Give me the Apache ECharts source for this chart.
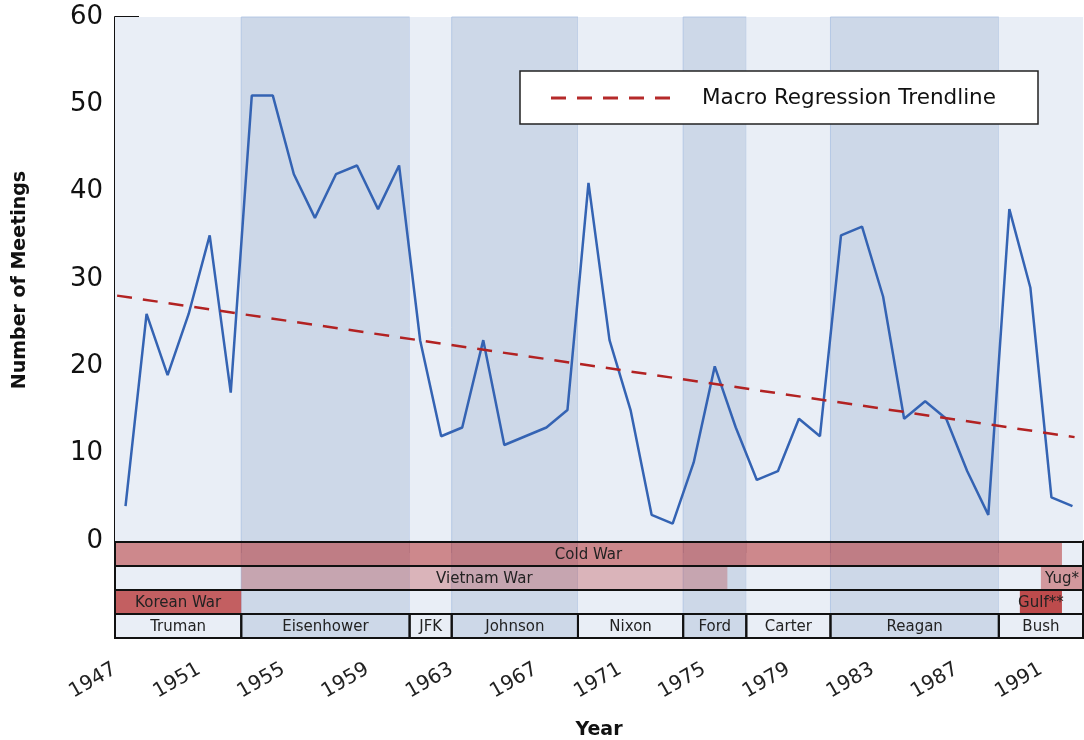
<!DOCTYPE html>
<html>
<head>
<meta charset="utf-8">
<script src="https://cdn.jsdelivr.net/npm/echarts@6/dist/echarts.min.js"></script>
<style>
html,body{margin:0;padding:0;background:#fff;}
#chart{width:1084px;height:740px;}
</style>
</head>
<body>
<div id="chart"></div>
<script>
// ---------- DATA ----------
const years = [1947,1948,1949,1950,1951,1952,1953,1954,1955,1956,1957,1958,1959,1960,1961,1962,1963,1964,1965,1966,1967,1968,1969,1970,1971,1972,1973,1974,1975,1976,1977,1978,1979,1980,1981,1982,1983,1984,1985,1986,1987,1988,1989,1990,1991,1992];
const meetings = [4,26,19,26,35,17,51,51,42,37,42,43,38,43,23,12,13,23,11,12,13,15,41,23,15,3,2,9,20,13,7,8,14,12,35,36,28,14,16,14,8,3,38,29,5,4];
const trendX = [1947.1, 1992.6];
const trendY = [28.1, 11.9];

const presidentNames = ['Truman','Eisenhower','JFK','Johnson','Nixon','Ford','Carter','Reagan','Bush'];
const presidentStart = [1947,1953,1961,1963,1969,1974,1977,1981,1989];
const presidentEnd   = [1953,1961,1963,1969,1974,1977,1981,1989,1993];

const eventNames = ['Cold War','Vietnam War','Yug*','Korean War','Gulf**'];
const eventStart = [1947,1953,1991,1947,1990];
const eventEnd   = [1992,1976.1,1993,1953,1992];
const eventRow   = [0,1,1,2,2];

const xTickLabels = [1947,1951,1955,1959,1963,1967,1971,1975,1979,1983,1987,1991];
const yTickLabels = [0,10,20,30,40,50,60];
const legendName = 'Macro Regression Trendline';

// ---------- LAYOUT / STYLE ----------
const X_MIN = 1947, X_MAX = 1993, Y_MIN = -11.1, Y_MAX = 60;
const ROW_BOUNDS = [[-0.1,-2.85],[-2.85,-5.6],[-5.6,-8.35],[-8.35,-11.1]];
const EVENT_ALPHA = [0.5,0.28,0.42,0.7,0.8];
const LIGHT = '#e9eef6', DARK = '#cdd8e8';
const FONT = 'DejaVu Sans';
// legend sample: five dashes (15 on, 11 off)
const DASH_ICON = 'path://M0,0h15v3h-15z M26,0h15v3h-15z M52,0h15v3h-15z M78,0h15v3h-15z M104,0h15v3h-15z';

const chart = echarts.init(document.getElementById('chart'), null, {renderer:'canvas'});

const lineData = years.map((y,i)=>[y+0.5, meetings[i]]);
const trendData = trendX.map((x,i)=>[x, trendY[i]]);
const presData = presidentNames.map((n,i)=>[presidentStart[i], presidentEnd[i], i]);
const eventData = eventNames.map((n,i)=>[eventStart[i], eventEnd[i], eventRow[i], i]);
const rowData = ROW_BOUNDS.map((r,i)=>[X_MIN, X_MAX, i]);
const allYears = [];
for (let y = X_MIN; y <= X_MAX; y++) allYears.push(y);

function rectFrom(api, x1, y1, x2, y2){
  const a = api.coord([x1,y1]), b = api.coord([x2,y2]);
  return {x:a[0], y:a[1], width:b[0]-a[0], height:b[1]-a[1]};
}

const option = {
  animation:false,
  backgroundColor:'#fff',
  textStyle:{fontFamily:FONT},
  grid:{left:115,right:1,top:17,bottom:102,containLabel:false,outerBoundsMode:'none'},
  legend:{
    data:[{name:legendName, icon:DASH_ICON}],
    left:551, top:86, padding:0, z:60,
    itemWidth:119, itemHeight:3,
    itemStyle:{color:'#b52a2a',borderWidth:0},
    textStyle:{fontFamily:FONT,fontSize:21.5,color:'#111',lineHeight:24,padding:[0,0,0,27]}
  },
  graphic:[
    {type:'rect', z:50, shape:{x:520,y:71,width:518,height:53}, style:{fill:'#fff',stroke:'#222',lineWidth:1.5}},
    {type:'text', z:50, x:20, y:280, rotation:Math.PI/2,
      style:{text:'Number of Meetings', fontFamily:FONT, fontSize:19, fontWeight:'bold', fill:'#111', align:'center', verticalAlign:'middle'}}
  ],
  xAxis:{
    type:'value', min:X_MIN, max:X_MAX, interval:1,
    name:'Year', nameLocation:'middle', nameGap:83,
    nameTextStyle:{fontFamily:FONT,fontSize:19,fontWeight:'bold',color:'#111'},
    axisLine:{show:true,lineStyle:{color:'#111',width:2}},
    axisTick:{show:true,customValues:allYears,length:12,lineStyle:{color:'#111',width:2}},
    axisLabel:{customValues:xTickLabels,rotate:30,margin:30,fontFamily:FONT,fontSize:20,color:'#222',
      formatter:function(v){return String(v);}},
    splitLine:{show:false}
  },
  yAxis:{
    type:'value', min:Y_MIN, max:Y_MAX,
    axisLine:{show:true,lineStyle:{color:'#111',width:2}},
    axisTick:{show:true,inside:true,length:24,customValues:yTickLabels.filter(v=>v>0),lineStyle:{color:'#111',width:2}},
    axisLabel:{customValues:yTickLabels,margin:12,fontFamily:FONT,fontSize:26,color:'#111',padding:[4,0,0,0],
      formatter:function(v){return String(v);}},
    splitLine:{show:false}
  },
  series:[
    { // presidential shading
      type:'custom', z:1, silent:true,
      data:presData,
      renderItem:function(params, api){
        const i = api.value(2);
        const dark = i % 2 === 1;
        return {type:'rect', shape:rectFrom(api, api.value(0), Y_MAX, api.value(1), Y_MIN),
          style:{fill: dark?DARK:LIGHT, stroke: dark?'rgba(170,192,225,0.8)':null, lineWidth: dark?1:0}};
      }
    },
    {
      name:'Meetings', type:'line', z:3, data:lineData, symbol:'none', showSymbol:false,
      lineStyle:{color:'#3463b3',width:2.5}, itemStyle:{color:'#3463b3'}
    },
    {
      name:legendName, type:'line', z:4, data:trendData, symbol:'none', showSymbol:false,
      lineStyle:{color:'#b22222',width:2.5,type:[15,11]}, itemStyle:{color:'#b22222'}
    },
    { // event bars
      type:'custom', z:5, silent:true,
      data:eventData,
      renderItem:function(params, api){
        const r = ROW_BOUNDS[api.value(2)];
        const idx = api.value(3);
        const rc = rectFrom(api, api.value(0), r[0], api.value(1), r[1]);
        return {type:'group', children:[
          {type:'rect', shape:rc, style:{fill:'rgba(178,34,34,'+EVENT_ALPHA[idx]+')'}},
          {type:'text', style:{text:eventNames[idx], x:rc.x+rc.width/2, y:rc.y+rc.height/2+1,
            align:'center', verticalAlign:'middle', fontFamily:FONT, fontSize:15, fill:'#222'}}
        ]};
      }
    },
    { // row borders
      type:'custom', z:6, silent:true,
      data:rowData,
      renderItem:function(params, api){
        const r = ROW_BOUNDS[api.value(2)];
        return {type:'rect', shape:rectFrom(api, api.value(0), r[0], api.value(1), r[1]),
          style:{fill:null, stroke:'#111', lineWidth:2}};
      }
    },
    { // president boxes
      type:'custom', z:7, silent:true,
      data:presData,
      renderItem:function(params, api){
        const r = ROW_BOUNDS[3];
        const idx = api.value(2);
        const rc = rectFrom(api, api.value(0), r[0], api.value(1), r[1]);
        return {type:'group', children:[
          {type:'rect', shape:rc, style:{fill:null, stroke:'#111', lineWidth:2}},
          {type:'text', style:{text:presidentNames[idx], x:rc.x+rc.width/2, y:rc.y+rc.height/2+1,
            align:'center', verticalAlign:'middle', fontFamily:FONT, fontSize:15, fill:'#222'}}
        ]};
      }
    }
  ]
};
chart.setOption(option);
</script>
</body>
</html>
